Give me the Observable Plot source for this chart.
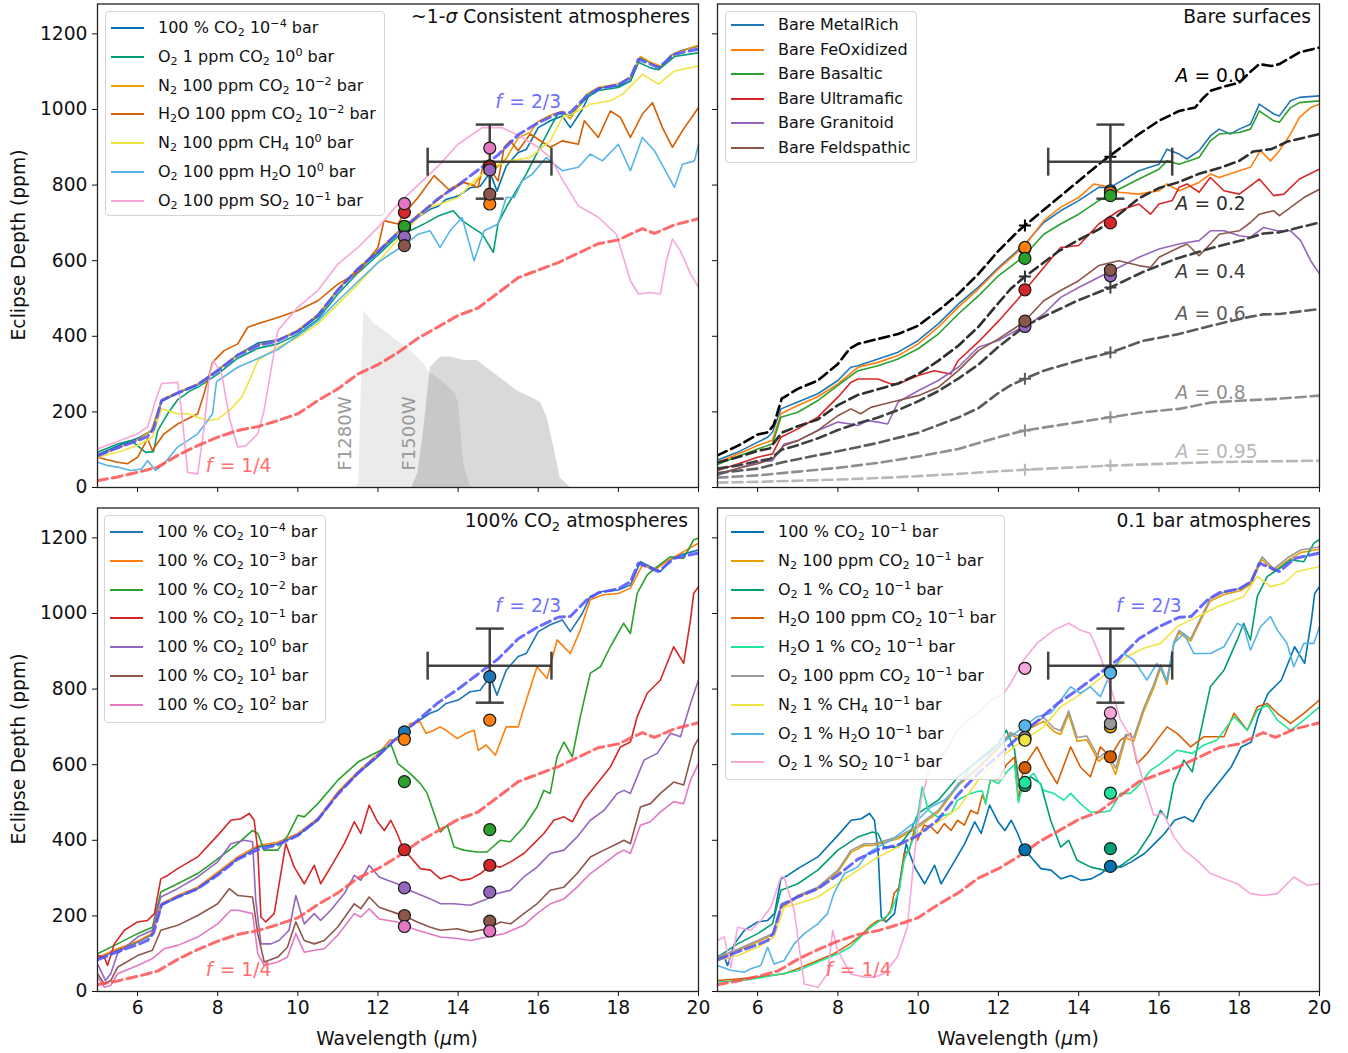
<!DOCTYPE html>
<html><head><meta charset="utf-8">
<script src="https://cdn.jsdelivr.net/npm/d3@7"></script>
<script src="https://cdn.jsdelivr.net/npm/@observablehq/plot@0.6"></script>
<style>
body{margin:0;background:#fff;font-family:"DejaVu Sans",sans-serif;color:#111;}
#fig{position:relative;width:1348px;height:1053px;overflow:hidden;background:#fff;}
.legend{position:absolute;border:1px solid #d4d4d4;border-radius:4px;background:rgba(255,255,255,0.8);box-sizing:border-box;}
.legend .sw{position:absolute;left:5px;width:33px;height:2px;}
.legend .lt{position:absolute;left:52px;height:22px;line-height:22px;white-space:nowrap;font-size:16px;}
sub,sup{font-size:0.7em;line-height:0;}
sub{vertical-align:-0.3em;} sup{vertical-align:0.55em;}
.title{position:absolute;line-height:22px;font-size:18.7px;white-space:nowrap;text-align:right;}
.ylab{position:absolute;font-size:18.7px;white-space:nowrap;transform:translate(-50%,-50%) rotate(-90deg);}
.xlab{position:absolute;font-size:18.7px;white-space:nowrap;transform:translate(-50%,-50%);}
</style></head>
<body><div id="fig"></div>
<script>
// ---------- axes ----------
const wavelengthTicks = [6, 8, 10, 12, 14, 16, 18, 20];
const depthTicks = [0, 200, 400, 600, 800, 1000, 1200];
const filterCenters = [12.66, 14.79];
const obsWavelength = [13.24, 14.79, 16.33];
const obsDepth = [764, 862, 960];

// ---------- reference blackbody curves ----------
const f23 = [[5,84],[5.5,105],[6,124],[6.25,135],[6.4,155],[6.6,230],[7,250],[7.5,272],[8,308],[8.5,350],[9,375],[9.5,388],[10,413],[10.5,455],[11,522],[11.5,578],[12,624],[12.5,674],[13,718],[13.5,764],[14,800],[14.5,840],[15,880],[15.5,933],[16,965],[16.5,990],[16.8,992],[17.2,1035],[17.5,1055],[18,1065],[18.3,1084],[18.5,1133],[18.8,1120],[19,1111],[19.4,1146],[20,1160]];
const f14 = [[5,18],[5.5,28],[6,40],[6.5,54],[7,85],[7.5,111],[8,133],[8.5,151],[9,161],[9.5,177],[10,195],[10.5,230],[11,261],[11.5,300],[12,325],[12.5,357],[13,395],[13.5,425],[14,455],[14.5,475],[15,515],[15.5,555],[16,575],[16.5,595],[17,620],[17.5,645],[18,655],[18.6,685],[18.9,672],[19.4,695],[20,711]];

// ---------- JWST filter throughputs (scaled) ----------
const f1280w = [[11.45,0],[11.52,10],[11.6,327],[11.65,468],[11.9,433],[12.15,415],[12.48,388],[12.81,362],[13.14,327],[13.31,302],[13.59,283],[13.93,248],[14.01,223],[14.14,62],[14.3,5],[14.4,0]];
const f1500w = [[12.85,0],[13.0,40],[13.14,151],[13.31,318],[13.56,345],[13.81,345],[14.14,336],[14.48,336],[14.81,309],[15.14,283],[15.47,256],[15.81,239],[16.06,225],[16.22,186],[16.39,107],[16.55,25],[16.8,0]];

// ---------- 100% CO2 atmospheres ----------
const co2_m4 = [[5,87],[5.5,110],[6,130],[6.35,150],[6.6,228],[7,250],[7.5,272],[8,312],[8.5,351],[9,382],[9.5,391],[10,413],[10.5,453],[11,524],[11.5,577],[12,621],[12.5,674],[12.64,687],[13,715],[13.3,736],[13.5,744],[13.7,762],[14,771],[14.3,793],[14.55,797],[14.8,833],[14.97,784],[15.2,850],[15.5,886],[15.7,894],[16,952],[16.3,970],[16.6,983],[16.8,952],[17.1,1000],[17.3,1045],[17.6,1058],[18,1062],[18.3,1075],[18.55,1137],[18.8,1124],[19.05,1111],[19.3,1142],[19.55,1155],[20,1168]];
const co2_m3 = [[5,90],[5.5,113],[6,133],[6.35,153],[6.6,232],[7,254],[7.5,276],[8,316],[8.5,356],[9,386],[9.5,395],[10,418],[10.5,458],[11,528],[11.5,582],[12,628],[12.3,665],[12.64,667],[12.8,709],[13.05,713],[13.2,683],[13.4,691],[13.55,700],[13.7,691],[13.98,669],[14.2,683],[14.4,691],[14.5,638],[14.7,652],[14.93,625],[15.2,700],[15.5,700],[15.65,753],[15.97,859],[16.22,828],[16.47,930],[16.8,894],[17.05,956],[17.3,1036],[17.6,1049],[18,1053],[18.3,1067],[18.6,1128],[18.9,1115],[19.2,1137],[19.55,1159],[20,1186]];
const co2_m2 = [[5,100],[5.5,126],[6,153],[6.37,170],[6.58,263],[7,285],[7.5,312],[8,351],[8.5,391],[8.87,426],[9,418],[9.16,374],[9.5,374],[9.75,413],[10,466],[10.16,462],[10.5,497],[11,559],[11.5,607],[12,634],[12.33,652],[12.5,603],[12.8,577],[13.06,550],[13.23,524],[13.4,471],[13.56,422],[13.73,440],[13.9,382],[14.14,374],[14.47,369],[14.72,369],[15.05,400],[15.3,396],[15.64,435],[15.97,488],[16.14,532],[16.3,524],[16.47,621],[16.64,660],[16.85,621],[17.05,727],[17.3,842],[17.55,859],[17.8,912],[18.13,974],[18.3,947],[18.47,1053],[18.72,1102],[18.97,1124],[19.3,1150],[19.63,1146],[19.88,1195],[20,1199]];
const co2_m1 = [[5,95],[5.17,91],[5.25,69],[5.42,126],[5.67,162],[6,184],[6.25,188],[6.42,206],[6.58,298],[6.75,307],[7,325],[7.5,356],[8,413],[8.33,453],[8.58,457],[8.79,471],[8.91,453],[9,374],[9.08,197],[9.2,184],[9.41,206],[9.7,391],[9.91,329],[10.16,285],[10.41,334],[10.57,285],[10.82,329],[11.16,391],[11.41,449],[11.57,418],[11.78,493],[11.99,449],[12.16,426],[12.32,453],[12.48,418],[12.64,375],[12.81,356],[13.06,325],[13.31,321],[13.56,298],[13.81,307],[14.06,294],[14.31,298],[14.56,312],[14.81,334],[15.06,329],[15.31,343],[15.64,365],[15.89,391],[16.14,418],[16.39,453],[16.64,462],[16.85,449],[17.14,506],[17.47,550],[17.8,594],[18.05,647],[18.3,660],[18.47,727],[18.72,789],[19.05,824],[19.38,912],[19.63,868],[19.8,983],[19.88,1053],[20,1071]];
const co2_0 = [[5,73],[5.2,29],[5.33,47],[5.5,100],[6,144],[6.37,162],[6.58,250],[7,272],[7.5,303],[8,343],[8.33,391],[8.66,400],[8.87,396],[8.95,241],[9.08,126],[9.33,126],[9.53,135],[9.78,162],[9.95,254],[10.16,179],[10.41,206],[10.57,188],[10.82,215],[11.16,259],[11.41,307],[11.57,294],[11.78,334],[12.03,303],[12.24,294],[12.48,285],[12.64,274],[12.98,259],[13.31,245],[13.56,232],[13.89,232],[14.31,228],[14.72,245],[14.97,259],[15.31,268],[15.64,303],[15.97,329],[16.3,365],[16.64,374],[16.97,409],[17.3,453],[17.64,479],[17.97,524],[18.14,532],[18.3,524],[18.64,612],[18.97,630],[19.3,683],[19.55,674],[19.8,762],[20,824]];
const co2_1 = [[5,47],[5.17,20],[5.33,29],[5.5,64],[6,95],[6.37,109],[6.58,162],[7,175],[7.5,201],[8,232],[8.29,272],[8.5,254],[8.87,250],[9,153],[9.16,78],[9.5,91],[9.74,117],[9.95,184],[10.16,135],[10.41,126],[10.66,135],[10.99,170],[11.41,232],[11.57,219],[11.78,250],[12.03,223],[12.49,206],[12.64,201],[12.98,184],[13.31,170],[13.56,162],[13.98,166],[14.31,157],[14.72,166],[15.06,184],[15.31,179],[15.64,206],[15.97,232],[16.3,268],[16.64,276],[16.97,312],[17.3,356],[17.64,374],[17.97,391],[18.14,400],[18.3,391],[18.55,488],[18.8,497],[19.05,524],[19.38,554],[19.63,546],[19.88,647],[20,669]];
const co2_2 = [[5,38],[5.17,11],[5.33,16],[5.5,47],[6,69],[6.37,87],[6.66,113],[7,122],[7.5,144],[8,179],[8.33,215],[8.5,215],[8.87,206],[9,100],[9.16,69],[9.5,78],[9.74,91],[9.95,153],[10.16,104],[10.41,109],[10.66,113],[10.99,148],[11.41,206],[11.57,197],[11.78,219],[12.03,192],[12.49,184],[12.64,175],[12.98,162],[13.56,144],[13.98,140],[14.31,135],[14.72,144],[15.14,153],[15.64,175],[15.97,206],[16.3,232],[16.64,245],[16.97,276],[17.3,312],[17.64,338],[17.97,365],[18.14,374],[18.3,365],[18.55,440],[18.8,449],[19.05,475],[19.38,502],[19.63,497],[19.8,559],[20,603]];

// ---------- ~1-sigma consistent atmospheres ----------
const o2_1ppm_co2 = [[5,93],[5.5,115],[5.83,124],[6,111],[6.2,93],[6.4,95],[6.5,150],[6.75,195],[7,232],[7.3,255],[7.5,265],[8,300],[8.5,342],[9,368],[9.5,380],[10,405],[10.5,445],[11,512],[11.5,568],[12,615],[12.5,665],[12.8,679],[13.2,700],[13.5,718],[13.88,732],[14.1,706],[14.35,688],[14.6,671],[14.88,622],[15.0,700],[15.25,750],[15.7,829],[16.0,891],[16.3,952],[16.5,990],[16.8,985],[17.2,1030],[17.5,1050],[18,1058],[18.3,1075],[18.5,1125],[18.8,1110],[19,1105],[19.4,1140],[20,1150]];
const n2_100ppm_co2_m2 = [[5,84],[5.5,104],[6,126],[6.35,152],[6.6,232],[7,252],[7.5,274],[8,310],[8.5,352],[9,377],[9.5,390],[10,416],[10.5,457],[11,524],[11.5,580],[12,626],[12.5,676],[13,722],[13.5,760],[13.8,790],[14.1,808],[14.4,800],[14.6,830],[14.9,840],[15.2,870],[15.5,925],[15.8,940],[16,968],[16.3,985],[16.6,995],[16.8,975],[17.2,1040],[17.5,1058],[18,1068],[18.3,1085],[18.55,1140],[18.8,1125],[19.05,1115],[19.4,1148],[20,1170]];
const h2o_100ppm_co2_m2 = [[5,80],[5.5,67],[5.75,63],[6,80],[6.25,129],[6.37,98],[6.66,142],[7,168],[7.5,195],[7.66,248],[7.87,331],[8.16,362],[8.5,380],[8.75,424],[9,433],[9.5,450],[10,468],[10.5,494],[11,538],[11.5,569],[12,635],[12.15,706],[12.5,697],[12.64,723],[13,767],[13.4,825],[13.8,785],[14.14,807],[14.5,794],[14.65,864],[15,811],[15.15,900],[15.3,917],[15.5,891],[15.8,935],[16.3,900],[16.6,917],[17,908],[17.15,970],[17.5,926],[17.8,996],[18.05,979],[18.3,926],[18.6,988],[18.85,1018],[19.1,952],[19.35,900],[19.6,944],[20,1005]];
const n2_100ppm_ch4 = [[5,80],[5.5,93],[6,111],[6.37,133],[6.6,208],[7,195],[7.25,195],[7.5,186],[7.75,177],[8,181],[8.3,204],[8.6,239],[8.83,292],[9,336],[9.5,371],[10,397],[10.5,433],[11,485],[11.5,538],[12,596],[12.5,657],[13,714],[13.3,741],[14,767],[14.4,811],[14.8,847],[15.3,864],[15.8,873],[16.3,917],[16.6,979],[17,996],[17.3,1014],[17.8,1023],[18.1,1040],[18.6,1093],[19,1067],[19.4,1102],[20,1115]];
const o2_100ppm_h2o = [[5,67],[5.25,58],[5.5,54],[5.83,45],[6.1,49],[6.25,71],[6.45,45],[6.66,63],[7,107],[7.25,124],[7.5,142],[7.75,177],[7.87,195],[7.97,280],[8.5,318],[9,341],[9.5,365],[10,402],[10.5,440],[11,494],[11.5,545],[12,595],[12.3,617],[12.64,640],[13,670],[13.3,679],[13.55,635],[13.8,679],[14.1,714],[14.4,600],[14.65,679],[15,697],[15.2,767],[15.4,767],[15.6,811],[15.85,829],[16.2,873],[16.4,855],[16.6,838],[17,847],[17.3,882],[17.6,864],[18,908],[18.15,873],[18.3,838],[18.6,926],[18.9,891],[19.4,794],[19.6,855],[19.9,864],[20,908]];
const o2_100ppm_so2 = [[5,102],[5.5,122],[6,142],[6.25,160],[6.45,230],[6.6,275],[7,278],[7.1,200],[7.25,40],[7.5,36],[7.65,150],[7.8,300],[7.9,335],[8.1,300],[8.3,180],[8.5,107],[8.7,110],[9,142],[9.15,200],[9.5,415],[10,477],[10.5,521],[11,591],[11.5,635],[12,688],[12.5,750],[13,800],[13.5,850],[14,908],[14.6,952],[15.1,952],[15.6,926],[16,900],[16.3,873],[16.6,815],[17,745],[17.5,715],[17.95,670],[18.15,600],[18.3,547],[18.5,512],[18.8,516],[19.05,512],[19.2,600],[19.35,657],[19.55,626],[19.8,565],[20,530]];

// ---------- bare surfaces ----------
const bareMetalRich = [[5,73],[5.5,93],[6,120],[6.25,133],[6.37,146],[6.58,208],[7,226],[7.5,248],[8,283],[8.32,318],[8.5,322],[9,340],[9.5,358],[10,389],[10.5,433],[11,485],[11.5,530],[12,582],[12.3,610],[12.66,644],[13.13,701],[13.55,732],[14,759],[14.5,794],[14.79,794],[15,807],[15.5,838],[16,855],[16.2,895],[16.5,882],[16.7,869],[17,891],[17.28,930],[17.5,948],[17.78,935],[18,948],[18.28,961],[18.5,1014],[18.86,988],[19,983],[19.28,1023],[19.5,1032],[20,1036]];
const bareFeOxidized = [[5,67],[5.5,88],[6,111],[6.37,125],[6.58,195],[7,217],[7.5,240],[8,274],[8.5,318],[9,331],[9.5,349],[10,380],[10.5,424],[11,477],[11.5,525],[12,578],[12.3,606],[12.66,640],[13.13,706],[13.55,741],[14,767],[14.38,803],[14.79,794],[15,781],[15.5,776],[16,785],[16.2,803],[16.5,785],[17,807],[17.28,829],[17.5,820],[18,838],[18.28,847],[18.53,891],[18.78,864],[19,891],[19.28,935],[19.5,979],[19.78,1005],[20,1014]];
const bareBasaltic = [[5,61],[5.5,82],[6,102],[6.37,115],[6.58,186],[7,199],[7.5,230],[8,270],[8.5,309],[9,322],[9.5,340],[10,367],[10.5,406],[11,459],[11.5,507],[12,560],[12.5,600],[12.66,615],[13.13,670],[13.55,697],[14,723],[14.5,759],[14.79,772],[15,789],[15.5,816],[16,842],[16.2,864],[16.5,855],[17,873],[17.28,917],[17.5,935],[18,939],[18.28,948],[18.5,996],[18.86,970],[19,966],[19.28,1005],[19.5,1018],[20,1023]];
const bareUltramafic = [[5,45],[5.5,62],[6,80],[6.37,89],[6.58,133],[7,155],[7.5,186],[8,239],[8.32,278],[8.5,287],[9,287],[9.32,274],[9.5,274],[10,296],[10.4,309],[10.81,300],[11,336],[11.5,385],[12,440],[12.5,500],[12.66,522],[13.13,582],[13.55,635],[14,640],[14.5,697],[15,732],[15.5,750],[15.79,723],[16,750],[16.33,759],[16.5,794],[16.7,803],[17,781],[17.28,820],[17.62,785],[18,776],[18.28,798],[18.5,816],[18.86,772],[19.11,776],[19.5,816],[20,842]];
const bareGranitoid = [[5,32],[5.5,50],[6,67],[6.37,71],[6.66,115],[7,124],[7.5,151],[8,173],[8.32,168],[8.5,164],[8.74,177],[9,173],[9.24,168],[9.5,226],[10,256],[10.5,283],[11,318],[11.5,371],[12,389],[12.5,419],[12.66,424],[13.13,459],[13.55,503],[14,529],[14.5,556],[15,582],[15.5,609],[16,631],[16.5,644],[16.7,648],[17,653],[17.28,679],[17.62,679],[18,666],[18.28,662],[18.61,688],[18.94,679],[19.28,679],[19.53,653],[19.78,600],[20,565]];
const bareFeldspathic = [[5,36],[5.5,50],[6,63],[6.37,76],[6.66,111],[7,124],[7.5,151],[8,190],[8.32,208],[8.57,195],[8.82,212],[9,217],[9.5,230],[10,243],[10.5,265],[11,309],[11.5,362],[12,393],[12.5,428],[12.66,441],[13.13,494],[13.55,521],[14,547],[14.5,587],[15,600],[15.5,587],[15.79,582],[16,609],[16.5,635],[16.7,644],[17,613],[17.28,644],[17.5,670],[18,679],[18.28,701],[18.5,723],[18.86,732],[19,719],[19.28,741],[19.61,767],[20,789]];
const albedo00 = [[5,85],[5.5,110],[6,140],[6.25,146],[6.4,165],[6.6,235],[7,261],[7.5,283],[8,327],[8.3,368],[8.5,380],[9,393],[9.5,406],[10,428],[10.5,468],[11,512],[11.5,565],[12,626],[12.5,679],[13,723],[13.5,767],[14,811],[14.5,855],[15,895],[15.5,935],[16,970],[16.5,996],[16.9,1005],[17.1,1030],[17.3,1050],[17.6,1060],[18,1071],[18.3,1102],[18.5,1120],[18.8,1115],[19,1120],[19.5,1151],[20,1164]];
const albedo02 = [[5,66],[5.5,80],[6,97],[6.3,103],[6.6,145],[7,162],[7.5,180],[8,218],[8.5,245],[9,260],[9.5,275],[10,300],[10.5,335],[11,375],[11.5,425],[12,488],[12.3,525],[12.66,558],[13,585],[13.5,625],[14,655],[14.5,683],[14.79,703],[15,722],[15.5,765],[16,792],[16.5,808],[17,830],[17.5,845],[18,864],[18.35,889],[18.8,895],[19.2,915],[20,935]];
const albedo04 = [[5,50],[5.5,58],[6,70],[6.3,75],[6.6,100],[7,112],[7.5,130],[8,152],[8.5,170],[9,185],[9.5,205],[10,228],[10.5,255],[11,288],[11.5,325],[12,372],[12.3,397],[12.66,427],[13.13,452],[13.96,494],[14.79,529],[15.6,570],[16.45,606],[17.3,633],[18.1,655],[18.6,672],[19,675],[20,701]];
const albedo06 = [[5,38],[6,50],[6.6,66],[7,75],[8,96],[9,118],[10,145],[11,185],[11.5,210],[12,250],[12.3,270],[12.66,288],[13.13,309],[14,336],[14.79,357],[15.6,388],[16.45,405],[17.3,428],[18.1,448],[18.6,458],[19,459],[20,472]];
const albedo08 = [[5,26],[6,32],[7,42],[8,52],[9,65],[10,82],[11,102],[12,133],[12.66,151],[14,173],[14.79,186],[15.6,199],[16.5,208],[17.3,225],[18.1,230],[19,235],[20,243]];
const albedo095 = [[5,13],[6,15],[7,18],[8,21],[9,25],[10,30],[11,36],[12,43],[12.66,47],[14.79,58],[17.3,67],[20,71]];
const albedoNames = ["0.0", "0.2", "0.4", "0.6", "0.8", "0.95"];
const albedoBand1 = [693, 558, 427, 288, 151, 47];
const albedoBand2 = [875, 703, 529, 357, 186, 58];
const albedoLabelDepth = [1089, 751, 571, 460, 251, 95];
const albedoLabelWavelength = 16.41;

// ---------- 0.1 bar atmospheres ----------
const n2_100ppm_co2 = [[5,88],[5.5,108],[6,131],[6.37,150],[6.58,220],[7,250],[7.5,272],[8,316],[8.33,368],[8.66,386],[8.9,387],[9.5,404],[10,435],[10.5,474],[11,545],[11.5,590],[12,642],[12.3,680],[12.63,662],[12.8,697],[13.13,715],[13.38,688],[13.55,680],[13.75,733],[13.96,662],[14.2,666],[14.5,609],[14.71,627],[14.92,574],[15.17,671],[15.37,662],[15.62,741],[15.87,803],[16.04,856],[16.2,812],[16.37,918],[16.5,949],[16.79,927],[17.03,980],[17.28,1033],[17.62,1050],[18.03,1060],[18.28,1077],[18.57,1143],[18.86,1112],[19.19,1139],[19.53,1161],[20,1170]];
const o2_1pct_co2 = [[5,91],[5.5,126],[6,153],[6.37,179],[6.58,268],[7,285],[7.5,321],[8,374],[8.5,409],[8.86,422],[9,418],[9.15,382],[9.5,382],[9.82,426],[10,471],[10.5,506],[11,568],[11.5,612],[12,656],[12.2,691],[12.4,640],[12.5,560],[12.63,541],[12.8,568],[13.05,550],[13.3,453],[13.55,382],[13.75,400],[13.96,347],[14.3,329],[14.63,321],[14.8,316],[15.12,338],[15.46,365],[15.79,418],[16.04,479],[16.2,457],[16.37,550],[16.62,612],[16.83,581],[17.03,683],[17.28,806],[17.62,850],[17.95,930],[18.11,974],[18.28,930],[18.45,1045],[18.7,1098],[18.95,1115],[19.28,1142],[19.61,1137],[19.86,1186],[20,1195]];
const h2o_100ppm_co2 = [[5,29],[5.5,33],[6,38],[6.66,47],[7,60],[7.5,82],[7.9,100],[8.3,126],[8.57,148],[8.82,175],[9,188],[9.15,188],[9.32,215],[9.4,259],[9.53,276],[9.65,365],[9.78,374],[9.9,426],[9.98,400],[10.15,440],[10.32,435],[10.48,418],[10.65,444],[10.82,426],[10.98,453],[11.15,440],[11.31,479],[11.48,470],[11.6,520],[11.68,500],[11.8,560],[12,560],[12.2,600],[12.4,620],[12.5,505],[12.63,594],[12.96,647],[13.21,594],[13.46,550],[13.8,647],[14.04,594],[14.29,568],[14.54,647],[14.79,621],[15.04,665],[15.29,683],[15.46,603],[15.71,630],[15.95,665],[16.2,700],[16.45,683],[16.79,647],[17.12,674],[17.62,674],[17.87,736],[18.2,691],[18.45,753],[18.7,762],[18.95,736],[19.28,709],[19.61,736],[20,771]];
const h2o_1pct_co2 = [[5,25],[5.5,28],[6,35],[7,55],[7.5,78],[8,100],[8.3,117],[8.82,170],[9.3,206],[9.53,268],[9.65,347],[9.9,409],[10.1,541],[10.25,480],[10.48,462],[10.82,471],[10.98,506],[11.31,524],[11.5,530],[11.6,530],[11.68,495],[11.8,560],[12,550],[12.2,580],[12.4,600],[12.5,500],[12.63,555],[12.88,577],[13.13,532],[13.38,524],[13.63,506],[13.8,524],[14.04,497],[14.29,475],[14.63,475],[14.79,479],[15.04,524],[15.29,524],[15.54,550],[15.79,585],[16.04,603],[16.45,638],[16.83,630],[17.12,652],[17.45,665],[17.87,727],[18.2,691],[18.45,744],[18.7,758],[18.95,718],[19.28,691],[19.61,718],[20,753]];
const o2_100ppm_co2 = [[5,91],[5.5,112],[6,135],[6.37,153],[6.58,223],[7,254],[7.5,276],[8,321],[8.33,374],[8.66,391],[8.9,391],[9.5,409],[10,440],[10.5,479],[11,550],[11.5,594],[12,647],[12.3,685],[12.63,670],[12.8,705],[13.13,724],[13.38,697],[13.55,690],[13.75,742],[13.96,672],[14.2,676],[14.5,618],[14.71,636],[14.92,590],[15.17,680],[15.37,672],[15.62,750],[15.87,812],[16.04,864],[16.2,820],[16.37,924],[16.5,955],[16.79,933],[17.03,986],[17.28,1040],[17.62,1056],[18.03,1066],[18.28,1084],[18.57,1150],[18.86,1118],[19.19,1146],[19.53,1168],[20,1176]];
const n2_1pct_ch4 = [[5,82],[5.5,95],[6,117],[6.41,144],[6.66,223],[7,232],[7.5,250],[8,285],[8.5,321],[9,356],[9.5,382],[10,418],[10.5,448],[11,485],[11.5,560],[12,615],[12.5,655],[12.63,665],[13.13,700],[13.55,753],[13.96,780],[14.38,815],[14.79,850],[15.2,886],[15.62,908],[16.04,921],[16.45,965],[16.79,983],[17.12,1000],[17.45,1018],[17.78,1031],[18.11,1045],[18.45,1098],[18.78,1071],[19.11,1080],[19.44,1111],[20,1124]];
const o2_1pct_h2o = [[5,69],[5.33,56],[5.66,51],[5.83,60],[6.08,69],[6.25,117],[6.41,73],[6.66,82],[6.91,126],[7.16,153],[7.5,179],[7.74,206],[7.9,259],[8.16,312],[8.49,329],[8.74,365],[8.99,382],[9.32,400],[9.65,426],[9.98,453],[10.32,488],[10.65,506],[10.98,541],[11.31,594],[11.65,621],[11.98,647],[12.3,674],[12.63,700],[12.96,727],[13.3,736],[13.46,758],[13.8,806],[14.04,789],[14.29,806],[14.54,780],[14.79,842],[15.12,894],[15.37,877],[15.7,824],[15.95,868],[16.2,824],[16.37,921],[16.62,947],[16.87,894],[17.28,894],[17.62,912],[17.95,974],[18.11,965],[18.28,903],[18.53,965],[18.78,992],[18.95,956],[19.19,921],[19.36,859],[19.61,921],[19.86,921],[20,965]];
const o2_1pct_so2 = [[5,135],[5.17,144],[5.33,64],[5.5,170],[5.83,162],[6.08,188],[6.33,223],[6.58,303],[6.66,303],[6.91,215],[7.16,20],[7.5,11],[7.74,47],[7.87,162],[7.99,109],[8.32,47],[8.65,38],[8.9,38],[9.15,47],[9.48,91],[9.73,170],[9.9,356],[10.07,506],[10.32,603],[10.65,630],[10.98,691],[11.23,718],[11.48,736],[11.81,771],[12.14,789],[12.3,815],[12.63,877],[12.96,921],[13.38,956],[13.75,974],[14.04,956],[14.29,947],[14.54,886],[14.79,806],[15.04,718],[15.29,674],[15.62,550],[15.87,466],[16.12,471],[16.37,409],[16.62,374],[16.95,347],[17.28,312],[17.62,298],[17.95,285],[18.28,259],[18.61,254],[18.95,259],[19.36,303],[19.69,281],[20,285]];

// ---------- band-averaged model points ----------
const sigmaBand1 = [690, 688, 691, 728, 663, 640, 751];
const sigmaBand2 = [845, 750, 851, 848, 840, 776, 898];
const bareBand1 = [632, 635, 606, 523, 426, 440];
const bareBand2 = [785, 780, 772, 700, 560, 575];
const co2Band1 = [687, 667, 555, 375, 274, 201, 172];
const co2Band2 = [833, 718, 428, 334, 263, 186, 160];
const tenthBand1 = [375, 668, 545, 592, 553, 672, 665, 703, 855];
const tenthBand2 = [331, 700, 378, 621, 525, 709, 845, 843, 737];

// ---------- labels & colours ----------
const tab10 = ["#1f77b4", "#ff7f0e", "#2ca02c", "#d62728", "#9467bd", "#8c564b", "#e377c2"];
const cb = {blue: "#0072B2", green: "#009E73", orange: "#E69F00", verm: "#D55E00", yellow: "#F0E442", sky: "#56B4E9", pink: "#f7a6da", mint: "#22e39a", grey: "#999999"};
const sigmaLabels = ["100 % CO<sub>2</sub> 10<sup>−4</sup> bar", "O<sub>2</sub> 1 ppm CO<sub>2</sub> 10<sup>0</sup> bar", "N<sub>2</sub> 100 ppm CO<sub>2</sub> 10<sup>−2</sup> bar", "H<sub>2</sub>O 100 ppm CO<sub>2</sub> 10<sup>−2</sup> bar", "N<sub>2</sub> 100 ppm CH<sub>4</sub> 10<sup>0</sup> bar", "O<sub>2</sub> 100 ppm H<sub>2</sub>O 10<sup>0</sup> bar", "O<sub>2</sub> 100 ppm SO<sub>2</sub> 10<sup>−1</sup> bar"];
const bareLabels = ["Bare MetalRich", "Bare FeOxidized", "Bare Basaltic", "Bare Ultramafic", "Bare Granitoid", "Bare Feldspathic"];
const co2Labels = ["−4", "−3", "−2", "−1", "0", "1", "2"].map(e => `100 % CO<sub>2</sub> 10<sup>${e}</sup> bar`);
const tenthLabels = ["100 % CO<sub>2</sub> 10<sup>−1</sup> bar", "N<sub>2</sub> 100 ppm CO<sub>2</sub> 10<sup>−1</sup> bar", "O<sub>2</sub> 1 % CO<sub>2</sub> 10<sup>−1</sup> bar", "H<sub>2</sub>O 100 ppm CO<sub>2</sub> 10<sup>−1</sup> bar", "H<sub>2</sub>O 1 % CO<sub>2</sub> 10<sup>−1</sup> bar", "O<sub>2</sub> 100 ppm CO<sub>2</sub> 10<sup>−1</sup> bar", "N<sub>2</sub> 1 % CH<sub>4</sub> 10<sup>−1</sup> bar", "O<sub>2</sub> 1 % H<sub>2</sub>O 10<sup>−1</sup> bar", "O<sub>2</sub> 1 % SO<sub>2</sub> 10<sup>−1</sup> bar"];
const f23Label = [14.93, 1020];
const f14Label = [7.70, 58];
const filterLabels = [["F1280W", 11.19, 45], ["F1500W", 12.79, 45]];

// ================= drawing =================
const FONT = "DejaVu Sans";
const fig = document.getElementById("fig");
const X = d => d[0], Y = d => d[1];
const spec = (data, stroke) => Plot.line(data, {x: X, y: Y, stroke, strokeWidth: 1.6, clip: true});
const dashed = (data, stroke, w, op) => Plot.line(data, {x: X, y: Y, stroke, strokeWidth: w, strokeDasharray: "10,5", strokeOpacity: op, clip: true});
const vCap = {draw(ctx, size) { const r = Math.sqrt(size / Math.PI); ctx.moveTo(0, -r); ctx.lineTo(0, r); }};
const hCap = {draw(ctx, size) { const r = Math.sqrt(size / Math.PI); ctx.moveTo(-r, 0); ctx.lineTo(r, 0); }};
const plusSym = {draw(ctx, size) { const r = Math.sqrt(size / Math.PI); ctx.moveTo(-r, 0); ctx.lineTo(r, 0); ctx.moveTo(0, -r); ctx.lineTo(0, r); }};

function bandDots(v1, v2, colors) {
  const pts = [...v1.map((v, i) => ({x: filterCenters[0], y: v, c: colors[i]})), ...v2.map((v, i) => ({x: filterCenters[1], y: v, c: colors[i]}))];
  return Plot.dot(pts, {x: "x", y: "y", fill: "c", stroke: "#1a1a1a", strokeWidth: 1.2, r: 6});
}
function errorBar() {
  const segs = [{x1: obsWavelength[0], x2: obsWavelength[2], y1: obsDepth[1], y2: obsDepth[1]}, {x1: obsWavelength[1], x2: obsWavelength[1], y1: obsDepth[0], y2: obsDepth[2]}];
  const st = {stroke: "#333", strokeWidth: 2.5, strokeOpacity: 0.92, fill: "none"};
  return [
    Plot.link(segs, {x1: "x1", x2: "x2", y1: "y1", y2: "y2", ...st}),
    Plot.dot([[obsWavelength[0], obsDepth[1]], [obsWavelength[2], obsDepth[1]]], {x: X, y: Y, symbol: vCap, r: 14, ...st}),
    Plot.dot([[obsWavelength[1], obsDepth[0]], [obsWavelength[1], obsDepth[2]]], {x: X, y: Y, symbol: hCap, r: 14, ...st})
  ];
}
function mathLabel(pos, sym, rest, color, dx) {
  return [
    Plot.text([pos], {x: X, y: Y, text: () => sym, fontStyle: "italic", fill: color, textAnchor: "start", fontSize: 18.7}),
    Plot.text([pos], {x: X, y: Y, text: () => rest, fill: color, textAnchor: "start", dx, fontSize: 18.7})
  ];
}
function refCurves() {
  return [
    dashed(f14, "#ff5050", 3, 0.85),
    dashed(f23, "#5050ff", 3, 0.85),
    mathLabel(f23Label, "f", "= 2/3", "#6e6eff", 14),
    mathLabel(f14Label, "f", "= 1/4", "#ff6e6e", 14)
  ];
}
function makePanel({left, top, width, height, ml, mr, mt, mb, showX, showY, marks}) {
  const svg = Plot.plot({
    width, height, marginLeft: ml, marginRight: mr, marginTop: mt, marginBottom: mb,
    style: {fontFamily: FONT, fontSize: "18.7px", background: "transparent", overflow: "visible", color: "#111"},
    x: {domain: [5, 20], ticks: wavelengthTicks, tickSize: 5, tickPadding: 4, tickFormat: showX ? (d => `${d}`) : (() => ""), label: null},
    y: {domain: [0, 1279], ticks: depthTicks, tickSize: 5, tickPadding: 5, tickFormat: showY ? (d => `${d}`) : (() => ""), label: null},
    color: {type: "identity"},
    marks: [...marks, Plot.frame({stroke: "#222", strokeWidth: 1.3})]
  });
  svg.style.position = "absolute";
  svg.style.left = left + "px";
  svg.style.top = top + "px";
  fig.appendChild(svg);
}
function legend(left, top, width, height, rowStart, rowStep, colors, labels) {
  const box = document.createElement("div");
  box.className = "legend";
  Object.assign(box.style, {left: left + "px", top: top + "px", width: width + "px", height: height + "px"});
  labels.forEach((lab, i) => {
    const cy = rowStart + i * rowStep;
    const sw = document.createElement("div");
    sw.className = "sw"; sw.style.top = (cy - 1) + "px"; sw.style.background = colors[i];
    const tx = document.createElement("div");
    tx.className = "lt"; tx.style.top = (cy - 11) + "px"; tx.innerHTML = lab;
    box.append(sw, tx);
  });
  fig.appendChild(box);
}
function htmlText(cls, html, css) {
  const d = document.createElement("div");
  d.className = cls; d.innerHTML = html; Object.assign(d.style, css);
  fig.appendChild(d);
}

// ---- Panel 1 ----
const sigmaSeries = [co2_m4, o2_1ppm_co2, n2_100ppm_co2_m2, h2o_100ppm_co2_m2, n2_100ppm_ch4, o2_100ppm_h2o, o2_100ppm_so2];
const sigmaColors = [cb.blue, cb.green, cb.orange, cb.verm, cb.yellow, cb.sky, cb.pink];
makePanel({left: 0, top: 0, width: 708, height: 497, ml: 97, mr: 10, mt: 3.5, mb: 10, showX: false, showY: true, marks: [
  Plot.areaY(f1280w, {x: X, y: Y, fill: "#000", fillOpacity: 0.08}),
  Plot.areaY(f1500w, {x: X, y: Y, fill: "#000", fillOpacity: 0.15}),
  Plot.text(filterLabels, {x: d => d[1], y: d => d[2], text: d => d[0], rotate: -90, textAnchor: "start", fill: "#999", fontSize: 18}),
  ...sigmaSeries.map((s, i) => spec(s, sigmaColors[i])),
  refCurves(),
  errorBar(),
  bandDots(sigmaBand1, sigmaBand2, tab10)
]});

// ---- Panel 2 ----
const bareSeries = [bareMetalRich, bareFeOxidized, bareBasaltic, bareUltramafic, bareGranitoid, bareFeldspathic];
const albedoSeries = [albedo00, albedo02, albedo04, albedo06, albedo08, albedo095];
const albedoColors = ["#000000", "#2e2e2e", "#3f3f3f", "#5c5c5c", "#8e8e8e", "#b8b8b8"];
const albedoPlus = [...albedoBand1.map((v, i) => ({x: filterCenters[0], y: v, c: albedoColors[i]})), ...albedoBand2.map((v, i) => ({x: filterCenters[1], y: v, c: albedoColors[i]}))];
makePanel({left: 708, top: 0, width: 640, height: 497, ml: 9, mr: 29, mt: 3.5, mb: 10, showX: false, showY: false, marks: [
  ...bareSeries.map((s, i) => spec(s, tab10[i])),
  ...albedoSeries.map((s, i) => dashed(s, albedoColors[i], 2.6, 1)),
  Plot.dot(albedoPlus, {x: "x", y: "y", stroke: "c", symbol: plusSym, r: 6, strokeWidth: 2, fill: "none"}),
  errorBar(),
  bandDots(bareBand1, bareBand2, tab10),
  ...albedoNames.map((n, i) => mathLabel([albedoLabelWavelength, albedoLabelDepth[i]], "A", "= " + n, albedoColors[i] === "#000000" ? "#000" : albedoColors[i], 19))
]});

// ---- Panel 3 ----
const co2Series = [co2_m4, co2_m3, co2_m2, co2_m1, co2_0, co2_1, co2_2];
makePanel({left: 0, top: 497, width: 708, height: 556, ml: 97, mr: 10, mt: 10.5, mb: 62, showX: true, showY: true, marks: [
  ...co2Series.map((s, i) => spec(s, tab10[i])),
  refCurves(),
  errorBar(),
  bandDots(co2Band1, co2Band2, tab10)
]});

// ---- Panel 4 ----
const tenthSeries = [co2_m1, n2_100ppm_co2, o2_1pct_co2, h2o_100ppm_co2, h2o_1pct_co2, o2_100ppm_co2, n2_1pct_ch4, o2_1pct_h2o, o2_1pct_so2];
const tenthColors = [cb.blue, cb.orange, cb.green, cb.verm, cb.mint, cb.grey, cb.yellow, cb.sky, cb.pink];
makePanel({left: 708, top: 497, width: 640, height: 556, ml: 9, mr: 29, mt: 10.5, mb: 62, showX: true, showY: false, marks: [
  ...tenthSeries.map((s, i) => spec(s, tenthColors[i])),
  refCurves(),
  errorBar(),
  bandDots(tenthBand1, tenthBand2, tenthColors)
]});

// ---- legends, titles, axis labels ----
legend(105, 11, 280, 205, 16, 28.8, sigmaColors, sigmaLabels);
legend(725, 11, 192, 152, 13, 24.5, tab10, bareLabels);
legend(104, 515, 222, 208, 16, 28.8, tab10, co2Labels);
legend(725, 515, 280, 265, 16, 28.8, tenthColors, tenthLabels);

htmlText("title", "~1-<i>σ</i> Consistent atmospheres", {right: (1348 - 690) + "px", top: "6px"});
htmlText("title", "Bare surfaces", {right: (1348 - 1311) + "px", top: "6px"});
htmlText("title", "100% CO<sub>2</sub> atmospheres", {right: (1348 - 688) + "px", top: "510px"});
htmlText("title", "0.1 bar atmospheres", {right: (1348 - 1311) + "px", top: "510px"});
htmlText("ylab", "Eclipse Depth (ppm)", {left: "18px", top: "245px"});
htmlText("ylab", "Eclipse Depth (ppm)", {left: "18px", top: "749px"});
htmlText("xlab", "Wavelength (<i>µ</i>m)", {left: "397px", top: "1038px"});
htmlText("xlab", "Wavelength (<i>µ</i>m)", {left: "1018px", top: "1038px"});
</script></body></html>
